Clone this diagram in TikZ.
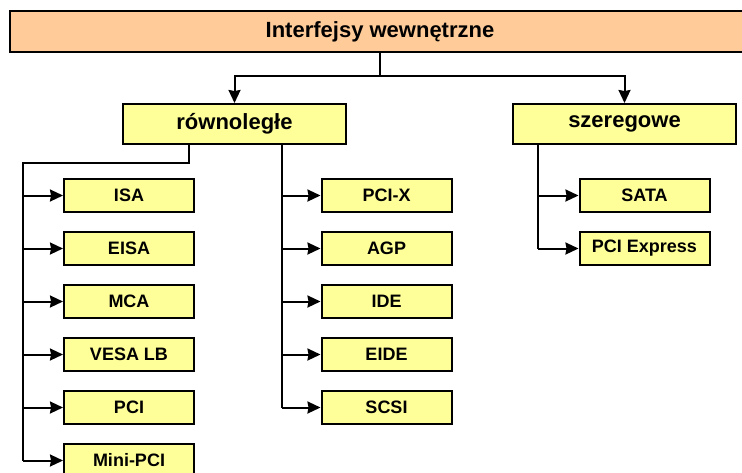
\documentclass[tikz,border=0pt]{standalone}
\usepackage{fontspec}
\setmainfont{Liberation Sans}
\usetikzlibrary{arrows.meta}
\usetikzlibrary{calc}
\usetikzlibrary{positioning}

\definecolor{headfill}{HTML}{FFCC99}
\definecolor{boxfill}{HTML}{FFFF99}

\tikzset{
  headbox/.style={draw,rectangle,fill=headfill,line width=2pt,inner sep=0pt,
    minimum width=740pt,minimum height=41pt,font=\fontsize{22}{26}\selectfont\bfseries},
  groupbox/.style={draw,rectangle,fill=boxfill,line width=2pt,inner sep=0pt,
    minimum width=223pt,minimum height=40pt,font=\fontsize{22}{26}\selectfont\bfseries},
  leafbox/.style={draw,rectangle,fill=boxfill,line width=2pt,inner sep=0pt,
    minimum width=130pt,minimum height=33pt,font=\fontsize{18}{22}\selectfont\bfseries},
  link/.style={line width=2pt,>={Stealth[length=13pt,width=12pt,inset=1pt]}}
}

\begin{document}
\begin{tikzpicture}[x=1pt,y=-1pt,node distance=18pt]

  \useasboundingbox (0,0) rectangle (742,472);
  \clip (0,0) rectangle (742,472);

  \node [headbox] (head) at (380,31.5) {Interfejsy wewnętrzne};

  \node [groupbox] (par) at (234.5,124) {równoległe};
  \node [groupbox] (ser) at (624.5,124) {szeregowe};

  % rownolegle, first column
  \node [leafbox] (isa) at (129,195.5) {ISA};
  \node [leafbox,below=of isa]  (eisa) {EISA};
  \node [leafbox,below=of eisa] (mca)  {MCA};
  \node [leafbox,below=of mca]  (vesa) {VESA LB};
  \node [leafbox,below=of vesa] (pci)  {PCI};
  \node [leafbox,below=of pci]  (mini) {Mini-PCI};

  % rownolegle, second column
  \node [leafbox] (pcix) at (386.5,195.5) {PCI-X};
  \node [leafbox,below=of pcix] (agp)  {AGP};
  \node [leafbox,below=of agp]  (ide)  {IDE};
  \node [leafbox,below=of ide]  (eide) {EIDE};
  \node [leafbox,below=of eide] (scsi) {SCSI};

  % szeregowe
  \node [leafbox] (sata) at (644.5,195.5) {SATA};
  \node [leafbox,below=of sata] (pcie) {PCI Express};

  \path [draw,link,->]
    (head.south) -- ++(0,23) -| (par.north);
  \path [draw,link,->]
    (head.south) -- ++(0,23) -| (ser.north);

  \coordinate (ltap) at ([xshift=67pt]par.south west);
  \coordinate (lbus) at (23,163);
  \coordinate (rtap) at ([xshift=160pt]par.south west);
  \coordinate (stap) at ([xshift=26pt]ser.south west);

  \draw [link] (ltap) |- (lbus) -- (lbus |- mini.west);
  \foreach \n in {isa,eisa,mca,vesa,pci,mini}
    \draw [link,->] (lbus |- \n.west) -- (\n.west);

  \draw [link] (rtap) -- (rtap |- scsi.west);
  \foreach \n in {pcix,agp,ide,eide,scsi}
    \draw [link,->] (rtap |- \n.west) -- (\n.west);

  \draw [link] (stap) -- (stap |- pcie.west);
  \foreach \n in {sata,pcie}
    \draw [link,->] (stap |- \n.west) -- (\n.west);

\end{tikzpicture}
\end{document}
